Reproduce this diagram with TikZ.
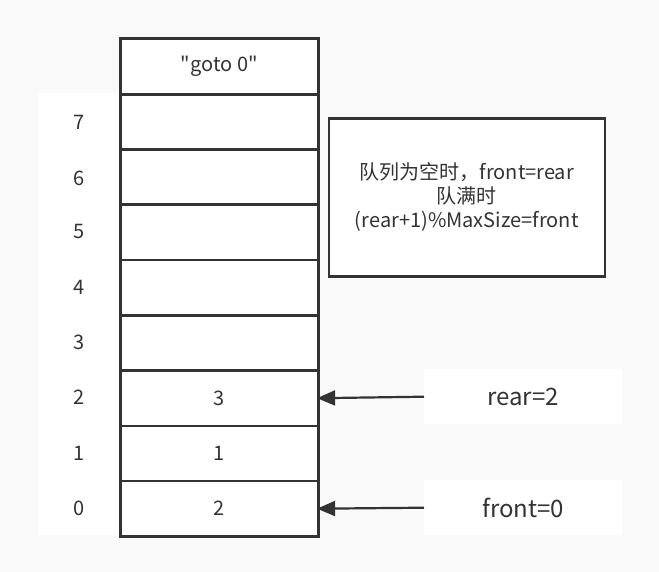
\documentclass[tikz,border=0pt]{standalone}
\usepackage{fontspec}
\setmainfont{Noto Sans CJK SC}
\newfontfamily\rawfont{Noto Sans CJK SC}
\usetikzlibrary{arrows.meta}
\definecolor{bg}{HTML}{F9F9F9}
\definecolor{ln}{HTML}{333333}
\tikzset{
  cell/.style={draw=ln, line width=2.6pt, fill=white, minimum width=198pt, minimum height=55.25pt, inner sep=0pt, font=\fontsize{20}{24}\selectfont, text=ln, anchor=north west},
  idx/.style={font=\fontsize{20}{24}\selectfont, text=ln},
  lbl/.style={fill=white, minimum width=198pt, minimum height=55pt, inner sep=0pt, font=\fontsize{24}{28}\selectfont, text=ln, anchor=north west},
  note/.style={draw=ln, line width=2.6pt, fill=white, minimum width=276pt, minimum height=158pt, inner sep=0pt, align=center, font=\fontsize{20}{24}\selectfont, text=ln, anchor=north west},
  ptr/.style={draw=ln, line width=2.2pt, -{Triangle[length=18pt,width=15pt]}, shorten >=-2.5pt},
}
\begin{document}
\begin{tikzpicture}[x=1pt,y=-1pt]
\fill[bg] (0,0) rectangle (659,572);
\useasboundingbox (0,0) rectangle (659,572);
% index column background
\fill[white] (38,93) rectangle (119,535);
% cells
\node[cell] (top) at (119,37.5) {\rawfont "goto 0"};
\node[cell] (c7) at (119,93) {};
\node[cell] (c6) at (119,148.25) {};
\node[cell] (c5) at (119,203.5) {};
\node[cell] (c4) at (119,258.75) {};
\node[cell] (c3) at (119,314) {};
\node[cell] (c2) at (119,369.25) {3};
\node[cell] (c1) at (119,424.5) {1};
\node[cell] (c0) at (119,479.75) {2};
% indices
\node[idx] (i7) at (79,122) {7};
\node[idx] (i6) at (79,178) {6};
\node[idx] (i5) at (79,232) {5};
\node[idx] (i4) at (79,287) {4};
\node[idx] (i3) at (79,342) {3};
\node[idx] (i2) at (79,397) {2};
\node[idx] (i1) at (79,453) {1};
\node[idx] (i0) at (79,508) {0};
% note
\node[note] (note) at (327.5,117) {队列为空时，front=rear\\队满时\\(rear+1)\%MaxSize=front};
% labels
\node[lbl] (rear) at (424,369) {rear=2};
\node[lbl] (front) at (424,480) {front=0};
% arrows
\draw[ptr] (rear.west) -- (c2.east);
\draw[ptr] (front.west) -- (c0.east);
\end{tikzpicture}
\end{document}
